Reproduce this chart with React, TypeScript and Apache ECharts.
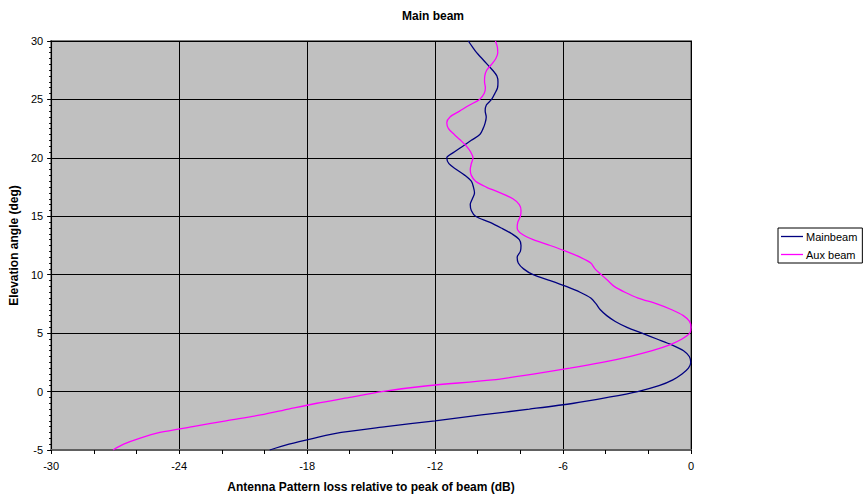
import React, { useEffect, useRef } from "react";
import * as echarts from "echarts";

const mainElevation = [-5, -4.5, -4, -3.5, -3, -2.5, -2, -1.5, -1, -0.5, 0, 0.5, 1, 1.5, 2, 2.5, 3, 3.5, 4, 4.5, 5, 5.5, 6, 6.5, 7, 7.5, 8, 8.5, 9, 9.5, 10, 10.5, 11, 11.5, 12, 12.5, 13, 13.5, 14, 14.5, 15, 15.5, 16, 16.5, 17, 17.5, 18, 18.5, 19, 19.5, 20, 20.5, 21, 21.5, 22, 22.5, 23, 23.5, 24, 24.5, 25, 25.5, 26, 26.5, 27, 27.5, 28, 28.5, 29, 29.5, 30];
const mainLoss = [-19.75, -18.85, -17.7, -16.4, -14.3, -12.0, -9.82, -7.58, -5.5, -3.9, -2.5, -1.5, -0.85, -0.42, -0.12, -0.01, -0.08, -0.35, -0.9, -1.6, -2.3, -3.0, -3.55, -3.95, -4.25, -4.45, -4.7, -5.2, -5.85, -6.6, -7.4, -7.85, -8.1, -8.15, -8.0, -7.97, -8.05, -8.4, -8.9, -9.45, -10.1, -10.3, -10.35, -10.25, -10.15, -10.2, -10.3, -10.6, -11.0, -11.35, -11.45, -11.1, -10.7, -10.3, -9.9, -9.75, -9.65, -9.6, -9.65, -9.6, -9.35, -9.2, -9.07, -9.05, -9.1, -9.3, -9.55, -9.8, -10.05, -10.25, -10.44];

const auxElevation = [-5, -4.5, -4, -3.5, -3, -2.5, -2, -1.5, -1, -0.5, 0, 0.5, 1, 1.5, 2, 2.5, 3, 3.5, 4, 4.5, 5, 5.5, 6, 6.5, 7, 7.5, 8, 8.5, 9, 9.5, 10, 10.5, 11, 11.5, 12, 12.5, 13, 13.5, 14, 14.5, 15, 15.5, 16, 16.5, 17, 17.5, 18, 18.5, 19, 19.5, 20, 20.5, 21, 21.5, 22, 22.5, 23, 23.5, 24, 24.5, 25, 25.5, 26, 26.5, 27, 27.5, 28, 28.5, 29, 29.5, 30];
const auxLoss = [-27.1, -26.6, -25.86, -24.9, -23.36, -21.8, -20.17, -18.87, -17.54, -16.0, -14.5, -12.35, -9.3, -7.4, -5.68, -4.16, -2.88, -1.82, -1.0, -0.42, -0.06, 0, -0.07, -0.36, -0.9, -1.6, -2.48, -3.1, -3.6, -3.9, -4.2, -4.5, -4.7, -5.2, -5.85, -6.6, -7.4, -7.95, -8.15, -8.12, -8.0, -7.97, -8.05, -8.35, -8.94, -9.6, -10.1, -10.3, -10.35, -10.3, -10.22, -10.33, -10.53, -10.8, -11.1, -11.37, -11.45, -11.3, -10.85, -10.4, -9.91, -9.7, -9.64, -9.68, -9.67, -9.58, -9.35, -9.15, -9.06, -9.08, -9.17];

const seriesNames = ["Mainbeam", "Aux beam"];
const chartTitle = "Main beam";
const xTitle = "Antenna Pattern loss relative to peak of beam (dB)";
const yTitle = "Elevation angle (deg)";

const FONT = "'Liberation Sans', Arial, sans-serif";

export default function App() {
  const ref = useRef<HTMLDivElement>(null);
  useEffect(() => {
    if (!ref.current) return;
    const chart = echarts.init(ref.current, undefined, { renderer: "svg" });
    const mainData = mainElevation.map((e, i) => [mainLoss[i], e]);
    const auxData = auxElevation.map((e, i) => [auxLoss[i], e]);
    chart.setOption({
      animation: false,
      backgroundColor: "#fff",
      textStyle: { fontFamily: FONT },
      title: {
        text: chartTitle,
        left: "center",
        top: 5,
        textStyle: { fontSize: 12, fontWeight: "bold", color: "#000", fontFamily: FONT },
      },
      legend: {
        orient: "vertical",
        left: 778,
        top: 228,
        data: seriesNames,
        icon: "rect",
        backgroundColor: "#fff",
        borderColor: "#000",
        borderWidth: 1,
        padding: [2, 5, 2, 3],
        itemGap: 5,
        itemWidth: 22,
        itemHeight: 1.3,
        textStyle: { fontSize: 11, lineHeight: 13, color: "#000", fontFamily: FONT, padding: [0, 0, 0, -2] },
      },
      grid: {
        left: 51,
        right: 175,
        top: 41,
        bottom: 49,
        show: true,
        backgroundColor: "#c0c0c0",
        borderColor: "#808080",
        borderWidth: 2,
      },
      xAxis: {
        type: "value",
        min: -30,
        max: 0,
        interval: 6,
        name: xTitle,
        nameLocation: "middle",
        nameGap: 31,
        nameTextStyle: { fontSize: 12, fontWeight: "bold", color: "#000", fontFamily: FONT },
        axisLine: { show: true, onZero: false, lineStyle: { color: "#606060", width: 2 } },
        axisTick: { show: true, inside: false, length: 4, lineStyle: { color: "#000" } },
        minorTick: { show: true, splitNumber: 3, length: 4, lineStyle: { color: "#000" } },
        axisLabel: { fontSize: 11, color: "#000", margin: 10, fontFamily: FONT },
        splitLine: { show: true, lineStyle: { color: "#000", width: 1 } },
      },
      yAxis: {
        type: "value",
        min: -5,
        max: 30,
        interval: 5,
        name: yTitle,
        nameLocation: "middle",
        nameGap: 29,
        nameRotate: 90,
        nameTextStyle: { fontSize: 12, fontWeight: "bold", color: "#000", fontFamily: FONT },
        axisLine: { show: true, onZero: false, lineStyle: { color: "#000", width: 1 } },
        axisTick: { show: true, length: 4, lineStyle: { color: "#000" } },
        minorTick: { show: true, splitNumber: 10, length: 2, lineStyle: { color: "#000" } },
        axisLabel: { fontSize: 11, color: "#000", margin: 8, fontFamily: FONT },
        splitLine: { show: true, lineStyle: { color: "#000", width: 1 } },
      },
      series: [
        {
          name: seriesNames[0],
          type: "line",
          data: mainData,
          symbol: "none",
          smooth: 0.3,
          lineStyle: { color: "#000080", width: 1.3 },
          itemStyle: { color: "#000080" },
        },
        {
          name: seriesNames[1],
          type: "line",
          data: auxData,
          symbol: "none",
          smooth: 0.3,
          lineStyle: { color: "#ff00ff", width: 1.3 },
          itemStyle: { color: "#ff00ff" },
        },
      ],
    });
    return () => chart.dispose();
  }, []);
  return <div ref={ref} style={{ width: 866, height: 499, position: "absolute", left: 0, top: 0 }} />;
}
